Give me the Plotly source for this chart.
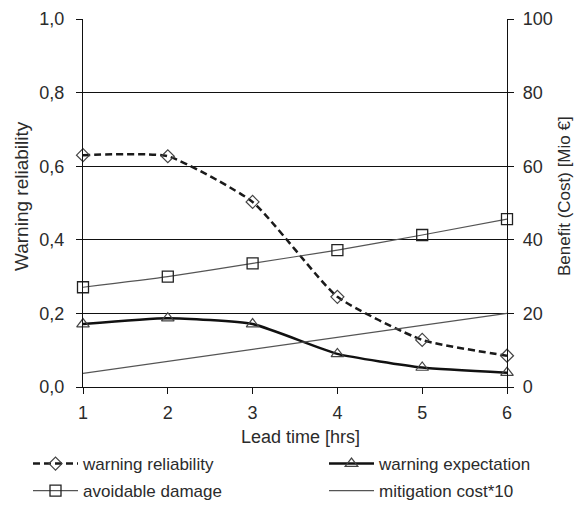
import plotly.graph_objects as go

lead_time = [1, 2, 3, 4, 5, 6]
warning_reliability = [0.630, 0.627, 0.503, 0.245, 0.128, 0.085]
warning_expectation = [0.171, 0.187, 0.171, 0.090, 0.053, 0.039]
avoidable_damage = [27.1, 30.0, 33.6, 37.2, 41.3, 45.6]
mitigation_cost_x10 = [3.7, 7.0, 10.2, 13.5, 16.7, 20.0]

left_ticks = [0, 0.2, 0.4, 0.6, 0.8, 1.0]
right_ticks = [0, 20, 40, 60, 80, 100]

FONT = "Arial, Liberation Sans, sans-serif"
TXT = "#2b2b2b"
SMOOTH = 0.5

# page body has an 8px margin; keep the page from overflowing the window
W, H = 578, 492
L, R, T, B = 75, 79, 11, 113
PW, PH = W - L - R, H - T - B


def px(xf):
    return (xf - L) / PW


def py(yf):
    return (H - B - yf) / PH


fig = go.Figure()
fig.add_trace(go.Scatter(
    x=lead_time, y=warning_reliability, name="warning reliability",
    mode="lines+markers", line=dict(color="#1a1a1a", width=2.5, dash="7px,4px", shape="spline", smoothing=SMOOTH),
    marker=dict(symbol="diamond-open", size=10, color="#444444", line=dict(width=1.2)),
    cliponaxis=False, yaxis="y", legend="legend"))
fig.add_trace(go.Scatter(
    x=lead_time, y=warning_expectation, name="warning expectation",
    mode="lines+markers", line=dict(color="#111111", width=2.5, shape="spline", smoothing=SMOOTH),
    marker=dict(symbol="triangle-up-open", size=11, color="#444444", line=dict(width=1.2)),
    cliponaxis=False, yaxis="y", legend="legend2"))
fig.add_trace(go.Scatter(
    x=lead_time, y=avoidable_damage, name="avoidable damage",
    mode="lines+markers", line=dict(color="#555555", width=1.2, shape="spline", smoothing=SMOOTH),
    marker=dict(symbol="square-open", size=11, color="#222222", line=dict(width=1.3)),
    cliponaxis=False, yaxis="y2", legend="legend3"))
fig.add_trace(go.Scatter(
    x=lead_time, y=mitigation_cost_x10, name="mitigation cost*10",
    mode="lines", line=dict(color="#555555", width=1.2),
    cliponaxis=False, yaxis="y2", legend="legend4"))

legend_common = dict(
    orientation="h", xref="container", yref="container",
    xanchor="left", yanchor="middle",
    font=dict(size=17, color=TXT, family=FONT), itemwidth=45,
    bgcolor="rgba(0,0,0,0)", borderwidth=0)

col1, col2 = 20, 316
row1, row2 = 456, 483

fig.update_layout(
    width=W, height=H,
    margin=dict(l=L, r=R, t=T, b=B, autoexpand=False),
    plot_bgcolor="white", paper_bgcolor="white",
    separators=",.",
    font=dict(family=FONT, size=17, color=TXT),
    xaxis=dict(
        range=[1, 6], tickvals=lead_time, showgrid=False, zeroline=False,
        showline=True, linecolor="#111111", linewidth=1.3,
        ticks="outside", ticklen=6, tickcolor="#111111", ticklabelstandoff=3,
        tickfont=dict(size=18)),
    yaxis=dict(
        range=[0, 1.0], tickvals=left_ticks, tickformat=".1f",
        showgrid=True, gridcolor="#111111", gridwidth=1.2, zeroline=False,
        showline=True, linecolor="#111111", linewidth=1.3,
        ticks="outside", ticklen=6, tickcolor="#111111", ticklabelstandoff=8,
        tickfont=dict(size=18)),
    yaxis2=dict(
        range=[0, 100], tickvals=right_ticks, overlaying="y", side="right",
        showgrid=False, zeroline=False,
        showline=True, linecolor="#111111", linewidth=1.3,
        ticks="outside", ticklen=6, tickcolor="#111111", ticklabelstandoff=5,
        tickfont=dict(size=18)),
    legend=dict(x=col1 / W, y=1 - row1 / H, **legend_common),
    legend2=dict(x=col2 / W, y=1 - row1 / H, **legend_common),
    legend3=dict(x=col1 / W, y=1 - row2 / H, **legend_common),
    legend4=dict(x=col2 / W, y=1 - row2 / H, **legend_common),
    showlegend=True,
    annotations=[
        dict(text="Warning reliability", xref="paper", yref="paper", x=px(13), y=py(188),
             textangle=-90, showarrow=False, xanchor="center", yanchor="middle",
             font=dict(size=19, color=TXT)),
        dict(text="Benefit (Cost) [Mio €]", xref="paper", yref="paper", x=px(556), y=py(188),
             textangle=-90, showarrow=False, xanchor="center", yanchor="middle",
             font=dict(size=17, color=TXT)),
        dict(text="Lead time [hrs]", xref="paper", yref="paper", x=px(292), y=py(429),
             showarrow=False, xanchor="center", yanchor="middle",
             font=dict(size=18, color=TXT)),
    ],
)

fig.write_html("out.html")
